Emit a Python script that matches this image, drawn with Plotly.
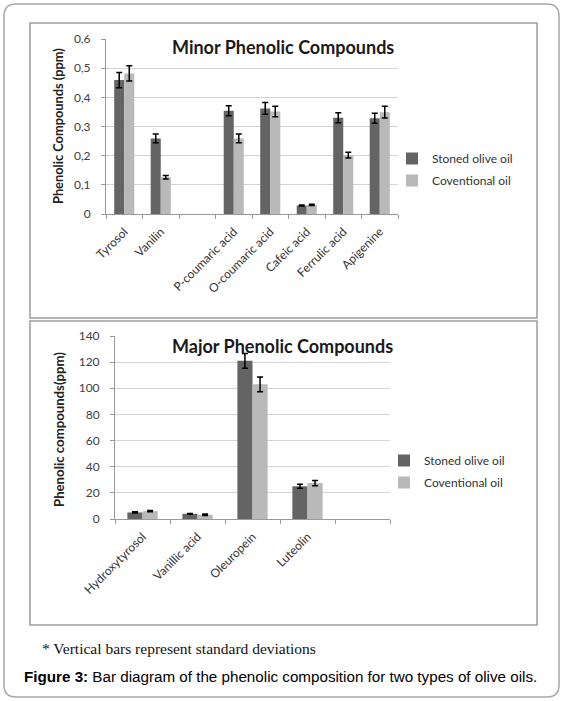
import plotly.graph_objects as go

# minor phenolic compounds (ppm), blank slot kept as in the original chart
minor_names = ["Tyrosol", "Vanilin", " ", "P-coumaric acid", "O-coumaric acid",
               "Cafeic acid", "Ferrulic acid", "Apigenine"]
minor_stoned = [0.459, 0.259, None, 0.354, 0.362, 0.029, 0.330, 0.328]
minor_stoned_sd = [0.026, 0.015, None, 0.017, 0.020, 0.002, 0.017, 0.017]
minor_conv = [0.482, 0.126, None, 0.259, 0.351, 0.031, 0.202, 0.349]
minor_conv_sd = [0.026, 0.006, None, 0.015, 0.018, 0.002, 0.010, 0.020]

# major phenolic compounds (ppm)
major_names = ["Hydroxytyrosol", "Vanillic acid", "Oleuropein", "Luteolin", "  "]
major_stoned = [5.0, 4.0, 121.0, 25.0, None]
major_stoned_sd = [0.5, 0.3, 5.7, 1.5, None]
major_conv = [6.0, 3.3, 103.0, 27.5, None]
major_conv_sd = [0.5, 0.6, 5.7, 2.0, None]

W, H = 563, 701
DARK = "#646464"
LIGHT = "#b9b9b9"
FONT = "Lato"

def px(x):
    return x / W

def py(y):
    return 1 - y / H

fig = go.Figure()

def add_pair(names, a, a_sd, b, b_sd, xa, ya, leg):
    fig.add_trace(go.Bar(
        x=names, y=a, name="Stoned olive oil", marker_color=DARK,
        error_y=dict(type="data", array=a_sd, color="black", thickness=1.5, width=3),
        xaxis=xa, yaxis=ya, legend=leg, legendgroup=leg + "a"))
    fig.add_trace(go.Bar(
        x=names, y=b, name="Coventional oil", marker_color=LIGHT,
        error_y=dict(type="data", array=b_sd, color="black", thickness=1.5, width=3),
        xaxis=xa, yaxis=ya, legend=leg, legendgroup=leg + "b"))

add_pair(minor_names, minor_stoned, minor_stoned_sd, minor_conv, minor_conv_sd, "x", "y", "legend")
add_pair(major_names, major_stoned, major_stoned_sd, major_conv, major_conv_sd, "x2", "y2", "legend2")

xcommon = dict(type="category", showline=True, linecolor="#9a9a9a", linewidth=1,
               ticks="outside", tickson="boundaries", ticklen=4, tickcolor="#9a9a9a",
               tickangle=-45, tickfont=dict(family=FONT, size=12, color="#333"),
               ticklabelstandoff=5, showgrid=False, automargin=False)
ycommon = dict(showline=True, linecolor="#9a9a9a", linewidth=1, ticks="outside",
               ticklen=4, tickcolor="#9a9a9a", showgrid=True, gridcolor="#d4d4d4",
               zeroline=False, tickfont=dict(family=FONT, size=12, color="#404040"),
               ticklabelstandoff=8, automargin=False)

legcommon = dict(font=dict(family=FONT, size=12, color="#333"), bgcolor="rgba(0,0,0,0)",
                 traceorder="grouped", tracegroupgap=3, xanchor="left", yanchor="top")

fig.update_layout(
    template="none",
    width=W, height=H, autosize=False,
    margin=dict(l=0, r=0, t=0, b=0, autoexpand=False),
    paper_bgcolor="white", plot_bgcolor="white",
    separators=",.",
    barmode="group", bargap=0.45, bargroupgap=0,
    xaxis=dict(xcommon, domain=[px(106), px(398)], categoryorder="array",
               categoryarray=minor_names, range=[-0.5, 7.5], anchor="y"),
    yaxis=dict(ycommon, domain=[py(214), py(39)], range=[0, 0.6], dtick=0.1, anchor="x"),
    xaxis2=dict(xcommon, domain=[px(115), px(390)], categoryorder="array",
                categoryarray=major_names, range=[-0.5, 4.5], anchor="y2"),
    yaxis2=dict(ycommon, domain=[py(519), py(336)], range=[0, 140], dtick=20, anchor="x2"),
    legend=dict(legcommon, x=px(392), y=py(144)),
    legend2=dict(legcommon, x=px(384), y=py(446)),
    showlegend=True,
)

annotations = [
    dict(text="<b>Minor Phenolic Compounds</b>", x=px(283), y=py(47), font=dict(family=FONT, size=18, color="#1a1a1a")),
    dict(text="<b>Major Phenolic Compounds</b>", x=px(283), y=py(346), font=dict(family=FONT, size=18, color="#1a1a1a")),
    dict(text="<b>Phenolic Compounds (ppm)</b>", x=px(58), y=py(126), textangle=-90,
         font=dict(family=FONT, size=12.8, color="#222")),
    dict(text="<b>Phenolic compounds(ppm)</b>", x=px(59), y=py(430), textangle=-90,
         font=dict(family=FONT, size=13.2, color="#222")),
    dict(text="* Vertical bars represent standard deviations", x=px(40), y=py(648), xanchor="left",
         font=dict(family="Liberation Serif", size=15.5, color="#111")),
    dict(text="<b>Figure 3:</b> Bar diagram of the phenolic composition for two types of olive oils.",
         x=px(22), y=py(676), xanchor="left", font=dict(family="Liberation Sans", size=15.2, color="#000")),
]
for a in annotations:
    a.setdefault("xanchor", "center")
    fig.add_annotation(xref="paper", yref="paper", yanchor="middle", showarrow=False, **a)

def rounded(x0, y0, x1, y1, r):
    X0, X1 = px(x0), px(x1)
    Y0, Y1 = py(y0), py(y1)
    rx, ry = px(r), r / H
    return (f"M{X0 + rx},{Y0} L{X1 - rx},{Y0} Q{X1},{Y0} {X1},{Y0 - ry} "
            f"L{X1},{Y1 + ry} Q{X1},{Y1} {X1 - rx},{Y1} L{X0 + rx},{Y1} "
            f"Q{X0},{Y1} {X0},{Y1 + ry} L{X0},{Y0 - ry} Q{X0},{Y0} {X0 + rx},{Y0} Z")

fig.add_shape(type="path", path=rounded(4, 4, 559, 697, 12), xref="paper", yref="paper",
              line=dict(color="#a8a8a8", width=1.5))
fig.add_shape(type="rect", x0=px(30), x1=px(537), y0=py(23), y1=py(318), xref="paper",
              yref="paper", line=dict(color="#9c9c9c", width=1.5))
fig.add_shape(type="rect", x0=px(30), x1=px(537), y0=py(321), y1=py(625), xref="paper",
              yref="paper", line=dict(color="#9c9c9c", width=1.5))

# page body has a default margin; drop it so the figure sits at the window corner
fig.write_html("out.html", config={"displayModeBar": False},
               post_script="document.body.style.margin='0px';")
